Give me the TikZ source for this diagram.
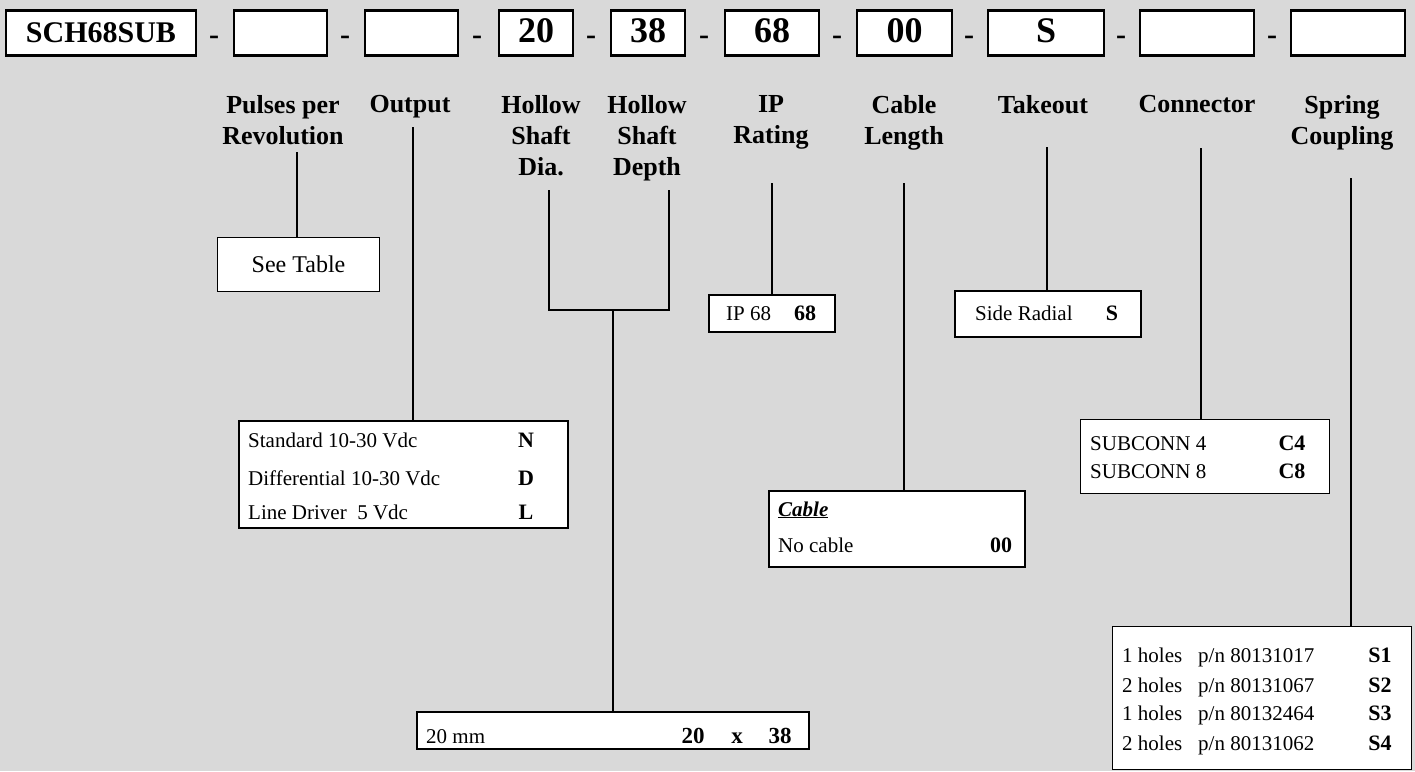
\documentclass[tikz,border=0pt]{standalone}
\usepackage{fontspec}
\setmainfont{Liberation Serif}
\usepackage{tikz}
\usetikzlibrary{positioning,calc}
\definecolor{sheet}{RGB}{217,217,217}

\tikzset{
  hdr/.style={draw, line width=2.6pt, fill=white, minimum height=45pt, inner sep=0pt,
    text height=22pt, text depth=4pt, font=\fontsize{36}{36}\selectfont\bfseries},
  sepdash/.style={inner sep=0pt, font=\fontsize{30}{30}\selectfont\bfseries},
  head/.style={anchor=north, align=center, inner sep=0pt, font=\fontsize{26}{31}\selectfont\bfseries},
  optbox/.style={draw, line width=1.6pt, fill=white, anchor=north west, inner sep=0pt},
  item/.style={anchor=base west, inner sep=0pt, font=\fontsize{21}{21}\selectfont},
  code/.style={anchor=base, inner sep=0pt, font=\fontsize{22}{22}\selectfont\bfseries},
  lead/.style={line width=2pt},
}

\begin{document}
\begin{tikzpicture}[x=1pt, y=-1pt]
\useasboundingbox (0,0) rectangle (1415,771);
\fill[sheet] (0,0) rectangle (1415,771);

% order code
\node[hdr, minimum width=190pt, font=\fontsize{30}{30}\selectfont\bfseries] (hser) at (101,33) {SCH68SUB};
\foreach \n/\xa/\xb/\val in {ppr/234/327/{},out/365/458/{},dia/499/573/20,dep/611/685/38,ip/725/819/68,cab/857/952/00,tko/988/1104/S,con/1140/1254/{},spr/1291/1405/{}}
  \node[hdr, minimum width={(\xb-\xa)*1pt}] (h\n) at ({(\xa+\xb)/2},33) {\val};
\foreach \x in {214,345,477,591,704,837,969,1121,1272}
  \node[sepdash] (d\x) at (\x,40) {-};

% field names
\foreach \n/\x/\txt in {ppr/283/{Pulses per\\Revolution},out/410/{Output},dia/541/{Hollow\\Shaft\\Dia.},dep/647/{Hollow\\Shaft\\Depth},ip/771/{IP\\Rating},cab/904/{Cable\\Length},tko/1043/{Takeout},con/1197/{Connector},spr/1342/{Spring\\Coupling}}
  \node[head] (l\n) at (\x,95) {\txt};

% leads
\coordinate (pprLead) at (297,152);
\coordinate (outLead) at (413,127);
\coordinate (diaLead) at (549,190);
\coordinate (depLead) at (669,190);
\coordinate (shaftJoin) at (613,310);
\coordinate (ipLead) at (772,183);
\coordinate (cabLead) at (904,183);
\coordinate (tkoLead) at (1047,147);
\coordinate (conLead) at (1201,148);
\coordinate (sprLead) at (1351,178);

% pulses
\node[optbox, line width=1pt, minimum width=162pt, minimum height=54pt, font=\fontsize{24}{24}\selectfont] (seeTab) at (217,237) {See Table};
\draw[lead] (pprLead) -- (seeTab.north -| pprLead);

% output
\node[optbox, minimum width=329pt, minimum height=107pt] (outBox) at (238,420) {};
\foreach \i/\y/\a/\b in {1/447/{Standard 10-30 Vdc}/N,2/485/{Differential 10-30 Vdc}/D,3/519/{Line Driver\ \ 5 Vdc}/L} {
  \node[item] (out\i) at (248,\y) {\a};
  \node[code] (outc\i) at (526,\y) {\b};
}
\draw[lead] (outLead) -- (outBox.north -| outLead);

% hollow shaft
\node[optbox, minimum width=392pt, minimum height=37pt] (sizeBox) at (416,711) {};
\node[item] (size1) at (426,743) {20 mm};
\node[code, font=\fontsize{23}{23}\selectfont\bfseries] (size2) at (693,743) {20};
\node[code, font=\fontsize{23}{23}\selectfont\bfseries] (size3) at (737,743) {x};
\node[code, font=\fontsize{23}{23}\selectfont\bfseries] (size4) at (780,743) {38};
\draw[lead] (diaLead) -- (diaLead |- shaftJoin) -- (depLead |- shaftJoin) -- (depLead);
\draw[lead] (shaftJoin) -- (sizeBox.north -| shaftJoin);

% ip
\node[optbox, minimum width=126pt, minimum height=37pt] (ipBox) at (708,294) {};
\node[item] (ip1) at (726,320) {IP 68};
\node[code] (ip2) at (805,320) {68};
\draw[lead] (ipLead) -- (ipBox.north -| ipLead);

% cable
\node[optbox, minimum width=256pt, minimum height=76pt] (cabBox) at (768,490) {};
\node[item, font=\fontsize{21}{21}\selectfont\bfseries\itshape] (cab0) at (778,516) {\underline{Cable}};
\node[item] (cab1) at (778,552) {No cable};
\node[code] (cab2) at (1001,552) {00};
\draw[lead] (cabLead) -- (cabBox.north -| cabLead);

% takeout
\node[optbox, minimum width=186pt, minimum height=46pt] (tkoBox) at (954,290) {};
\node[item] (tko1) at (975,320) {Side Radial};
\node[code] (tko2) at (1112,320) {S};
\draw[lead] (tkoLead) -- (tkoBox.north -| tkoLead);

% connector
\node[optbox, line width=1pt, minimum width=249pt, minimum height=74pt] (conBox) at (1080,419) {};
\foreach \i/\y/\a in {4/450/{SUBCONN 4},8/478/{SUBCONN 8}} {
  \node[item] (con\i) at (1090,\y) {\a};
  \node[code] (conc\i) at (1292,\y) {C\i};
}
\draw[lead] (conLead) -- (conBox.north -| conLead);

% spring coupling
\node[optbox, line width=1.4pt, minimum width=299pt, minimum height=143pt] (sprBox) at (1112,626) {};
\foreach \i/\y/\h/\pn in {1/662/1/80131017,2/692/2/80131067,3/720/1/80132464,4/750/2/80131062} {
  \node[item] (spr\i) at (1122,\y) {\h\ holes};
  \node[item] (pn\i) at (1198,\y) {p/n \pn};
  \node[code] (sprc\i) at (1380,\y) {S\i};
}
\draw[lead] (sprLead) -- (sprBox.north -| sprLead);
\end{tikzpicture}
\end{document}
